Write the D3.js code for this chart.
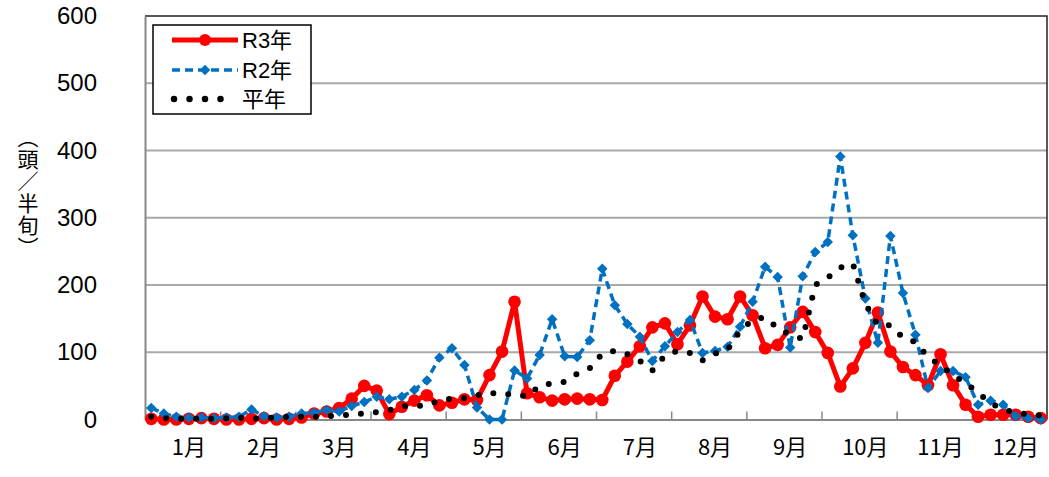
<!DOCTYPE html>
<html>
<head>
<meta charset="utf-8">
<script src="https://cdn.jsdelivr.net/npm/d3@7"></script>
<style>
  body { margin: 0; background: #fff; }
  svg text { fill: #000; }
</style>
</head>
<body>
<div id="vis"></div>
<script>
const months = ['1月','2月','3月','4月','5月','6月','7月','8月','9月','10月','11月','12月'];
const yTicks = [0, 100, 200, 300, 400, 500, 600];
const yTitle = '（頭／半旬）';

// 半旬 (5-day) values, 6 per month
const r3 = [1,0,0,1,2,1, 0,0,1,2,0,1, 3,9,12,17,31,50, 43,8,19,28,36,21,
  25,30,29,66,101,175, 39,33,28,30,31,30, 29,65,86,109,137,143,
  112,140,183,153,149,183, 155,106,111,137,160,130, 99,49,76,114,159,101,
  78,66,51,97,51,22, 4,7,7,7,4,2];
const r2 = [17,9,4,3,3,2, 3,4,15,5,3,4, 9,10,14,12,20,26, 34,30,34,44,58,92,
  106,81,18,0,0,73, 61,96,149,94,93,118, 224,170,142,123,87,109,
  130,148,99,102,108,138, 175,227,212,107,213,249, 264,391,274,180,114,273,
  188,126,47,72,72,63, 22,28,22,5,2,0];
const normal = [4,2,1,1,1,1, 2,3,1,2,3,4, 4,4,5,6,7,9, 11,14,20,20,21,28,
  31,32,36,40,37,38, 34,50,54,56,68,76, 98,102,97,87,73,95,
  102,99,88,98,104,132, 148,152,136,126,120,200, 211,226,232,172,140,140,
  122,115,93,81,66,54, 40,24,15,10,8,6];

const W = 1049, H = 477;
const plot = {left: 145, right: 1047, top: 16, bottom: 419.5};

const svg = d3.select('#vis').append('svg')
  .attr('width', W).attr('height', H)
  .style('font-family', '"Liberation Sans", "Noto Sans CJK JP", sans-serif');

const idx = d3.range(r3.length);
const x = d3.scaleBand().domain(idx).range([plot.left, plot.right]);
const cx = i => x(i) + x.bandwidth() / 2;
const xb = d3.scaleLinear().domain([0, 72]).range([plot.left, plot.right]);
const y = d3.scaleLinear().domain([0, 600]).range([plot.bottom, plot.top]);

// gridlines
svg.append('g')
  .selectAll('line')
  .data(yTicks.filter(d => d > 0 && d < 600))
  .join('line')
  .attr('x1', plot.left).attr('x2', plot.right)
  .attr('y1', d => y(d)).attr('y2', d => y(d))
  .attr('stroke', '#a9a9a9').attr('stroke-width', 2);

// plot border (top / right)
svg.append('path')
  .attr('d', `M${plot.left},${plot.top}H${plot.right}V${plot.bottom}`)
  .attr('fill', 'none').attr('stroke', '#222').attr('stroke-width', 1.5);

// y axis
const yAxis = svg.append('g')
  .attr('transform', `translate(${plot.left},0)`)
  .call(d3.axisLeft(y).tickValues(yTicks).tickSize(0).tickPadding(48));
yAxis.select('.domain').attr('stroke', '#888').attr('stroke-width', 2);
yAxis.selectAll('text').style('font-size', '24px').style('font-family', '"Liberation Sans", sans-serif');

// x axis: boundary ticks
const xAxis = svg.append('g')
  .attr('transform', `translate(0,${plot.bottom})`)
  .call(d3.axisBottom(xb).tickValues(d3.range(6, 72, 6)).tickSizeInner(-8).tickSizeOuter(0).tickFormat(''));
xAxis.select('.domain').attr('stroke', '#888').attr('stroke-width', 2);
xAxis.selectAll('.tick line').attr('stroke', '#888').attr('stroke-width', 1.5);

// month labels at the 4th 半旬 of each month
svg.append('g')
  .attr('transform', `translate(0,${plot.bottom})`)
  .call(d3.axisBottom(x).tickValues(months.map((m, k) => k * 6 + 3))
    .tickFormat(d => months[(d - 3) / 6]).tickSize(0).tickPadding(20))
  .call(g => g.select('.domain').remove())
  .selectAll('text')
  .style('font-size', '22px')
  .style('font-family', '"Noto Sans CJK JP", sans-serif');

// y axis title, vertical writing
svg.append('text')
  .attr('x', 28).attr('y', 193)
  .attr('text-anchor', 'middle')
  .style('writing-mode', 'vertical-rl')
  .style('text-orientation', 'upright')
  .style('font-family', '"Noto Sans CJK JP", sans-serif')
  .style('font-size', '21px')
  .style('letter-spacing', '1px')
  .text(yTitle);

const line = d3.line().x((d, i) => cx(i)).y(d => y(d));

// R3
svg.append('path').datum(r3)
  .attr('d', line).attr('fill', 'none')
  .attr('stroke', '#ff0000').attr('stroke-width', 5).attr('stroke-linejoin', 'round');
svg.append('g').selectAll('circle').data(r3).join('circle')
  .attr('cx', (d, i) => cx(i)).attr('cy', d => y(d)).attr('r', 6.3)
  .attr('fill', '#ff0000');

// R2
const diamond = d3.symbol().type(d3.symbolDiamond2).size(70);
svg.append('path').datum(r2)
  .attr('d', line).attr('fill', 'none')
  .attr('stroke', '#0070c0').attr('stroke-width', 3.5).attr('stroke-dasharray', '8,5');
svg.append('g').selectAll('path').data(r2).join('path')
  .attr('d', diamond)
  .attr('transform', (d, i) => `translate(${cx(i)},${y(d)})`)
  .attr('fill', '#0070c0');

// 平年 (round dot line)
svg.append('path').datum(normal)
  .attr('d', line).attr('fill', 'none')
  .attr('stroke', '#000').attr('stroke-width', 6)
  .attr('stroke-linecap', 'round').attr('stroke-dasharray', '0,15');

// legend
const lg = svg.append('g');
lg.append('rect').attr('x', 153).attr('y', 25).attr('width', 158).attr('height', 89)
  .attr('fill', '#fff').attr('stroke', '#000').attr('stroke-width', 1.5);
const legendRows = [
  {name: 'R3年', y: 40, kind: 'r3'},
  {name: 'R2年', y: 70, kind: 'r2'},
  {name: '平年', y: 99, kind: 'avg'}
];
legendRows.forEach(r => {
  if (r.kind === 'r3') {
    lg.append('line').attr('x1', 172).attr('x2', 238).attr('y1', r.y).attr('y2', r.y)
      .attr('stroke', '#ff0000').attr('stroke-width', 5);
    lg.append('circle').attr('cx', 205).attr('cy', r.y).attr('r', 6).attr('fill', '#ff0000');
  } else if (r.kind === 'r2') {
    lg.append('line').attr('x1', 172).attr('x2', 238).attr('y1', r.y).attr('y2', r.y)
      .attr('stroke', '#0070c0').attr('stroke-width', 3.5).attr('stroke-dasharray', '8,5');
    lg.append('path').attr('d', diamond).attr('transform', `translate(205,${r.y})`).attr('fill', '#0070c0');
  } else {
    lg.append('line').attr('x1', 174).attr('x2', 236).attr('y1', r.y).attr('y2', r.y)
      .attr('stroke', '#000').attr('stroke-width', 6.5)
      .attr('stroke-linecap', 'round').attr('stroke-dasharray', '0,15.5');
  }
  lg.append('text').attr('x', 242).attr('y', r.y).attr('dominant-baseline', 'central')
    .style('font-size', '22px')
    .style('font-family', '"Liberation Sans", "Noto Sans CJK JP", sans-serif')
    .text(r.name);
});
</script>
</body>
</html>
